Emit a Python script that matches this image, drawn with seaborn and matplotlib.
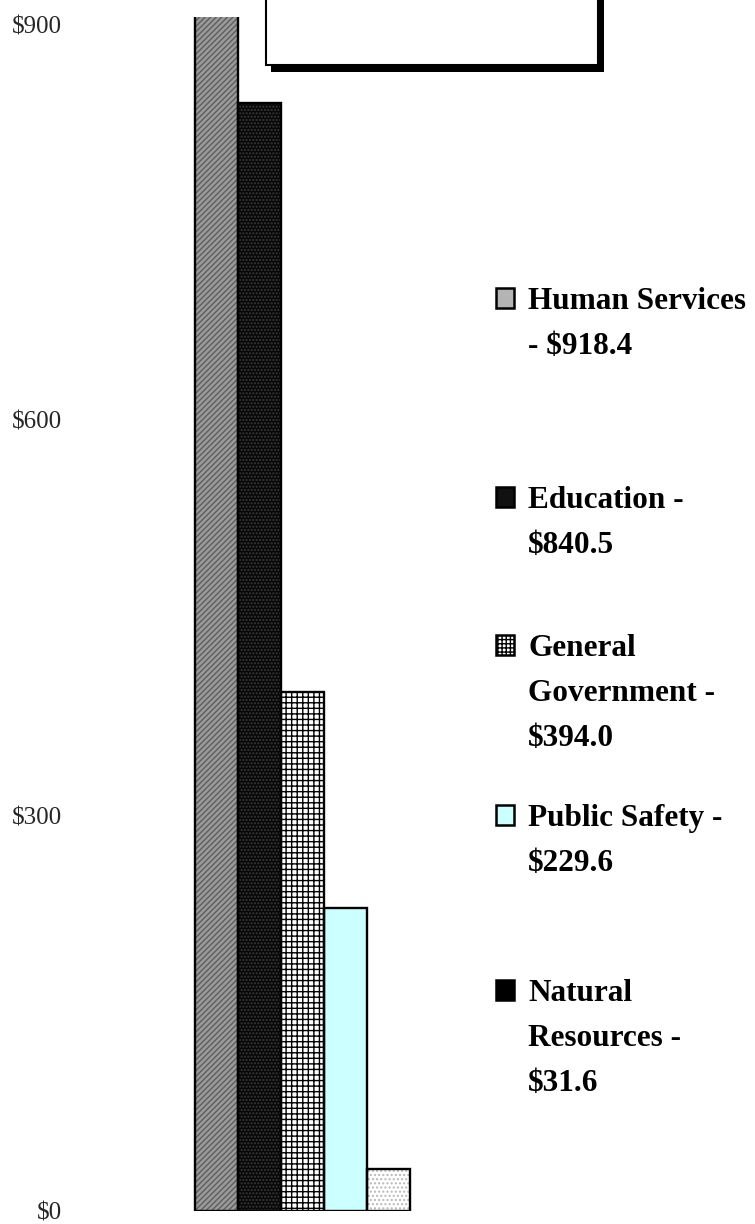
"""
Spending by function - bar chart with side legend.
"""

import matplotlib
matplotlib.use("Agg")
import matplotlib.pyplot as plt
from matplotlib.patches import Rectangle
import pandas as pd
import seaborn as sns

categories = ["Human Services", "Education", "General Government",
              "Public Safety", "Natural Resources"]
values = [918.4, 840.5, 394.0, 229.6, 31.6]
legend_lines = [
    ["Human Services", "- $918.4"],
    ["Education -", "$840.5"],
    ["General", "Government -", "$394.0"],
    ["Public Safety -", "$229.6"],
    ["Natural", "Resources -", "$31.6"],
]
yticks = [0, 300, 600, 900]
ytick_labels = ["$0", "$300", "$600", "$900"]

# look of each series: face, hatch, hatch colour
faces = ["#9a9a9a", "#080808", "#ffffff", "#ccffff", "#ffffff"]
hatches = ["//////", ".....", "+++", None, "...."]
hatch_cols = ["#5e5e5e", "#3a3a3a", "#000000", "#ccffff", "#b8b8b8"]
# legend swatches (the last one is drawn solid black in the original)
legend_faces = ["#b4b4b4", "#111111", "#ffffff", "#ccffff", "#000000"]
legend_hatches = [None, None, "++++", None, None]

sns.set_theme(style="white")
plt.rcParams["font.family"] = ["Liberation Serif", "DejaVu Serif"]
plt.rcParams["text.parse_math"] = False
plt.rcParams["hatch.linewidth"] = 1.0

W, H = 755, 1224
fig = plt.figure(figsize=(W / 100, H / 100), dpi=100)
fig.patch.set_facecolor("white")

ax_left, ax_right = 65, 480
ax_bot, ax_top = 1211, 17
ax = fig.add_axes([ax_left / W, (H - ax_bot) / H,
                   (ax_right - ax_left) / W, (ax_bot - ax_top) / H])

df = pd.DataFrame({"category": categories, "value": values})
sns.barplot(data=df, x="category", y="value", hue="category",
            palette=faces, width=1.0, saturation=1, legend=False, ax=ax)

for patch, h, hc in zip(ax.patches, hatches, hatch_cols):
    patch.set_edgecolor(hc)
    patch.set_linewidth(0)
    if h:
        patch.set_hatch(h)

# outlines on top
ax.bar(range(len(values)), values, width=1.0, fill=False,
       edgecolor="black", linewidth=1.7, zorder=3)

px_per_unit = 43.0
ax.set_xlim(-0.5 - (195 - ax_left) / px_per_unit,
            len(values) - 0.5 + (ax_right - 410) / px_per_unit)
ax.set_ylim(0, (ax_bot - ax_top) / 1.318)
ax.set_yticks(yticks)
ax.set_yticklabels(ytick_labels, fontsize=18)
ax.tick_params(axis="y", length=0, pad=2)
ax.set_xticks([])
ax.set_xlabel("")
ax.set_ylabel("")
for s in ax.spines.values():
    s.set_visible(False)
ax.patch.set_alpha(0)

# empty title box with drop shadow (clipped at top)
fig.patches.append(Rectangle((271 / W, 1 - 72 / H), 333 / W, 90 / H,
                             transform=fig.transFigure, facecolor="black",
                             edgecolor="none", zorder=5))
fig.patches.append(Rectangle((266 / W, 1 - 65 / H), 332 / W, 90 / H,
                             transform=fig.transFigure, facecolor="white",
                             edgecolor="black", linewidth=1.5, zorder=6))

# legend
first_centers = [298, 497, 645, 815, 990]
line_step = 45
for lines, yc, lf, lh in zip(legend_lines, first_centers, legend_faces,
                             legend_hatches):
    mk = Rectangle((496 / W, 1 - (yc + 10) / H), 18 / W, 20 / H,
                   transform=fig.transFigure, facecolor=lf,
                   edgecolor="black", linewidth=1.8, zorder=4)
    if lh:
        mk.set_hatch(lh)
    fig.patches.append(mk)
    for i, line in enumerate(lines):
        fig.text(528 / W, 1 - (yc + 11 + i * line_step) / H, line,
                 fontsize=22.5, fontweight="bold", ha="left", va="baseline",
                 color="black")

fig.savefig("out.png", dpi=100)
